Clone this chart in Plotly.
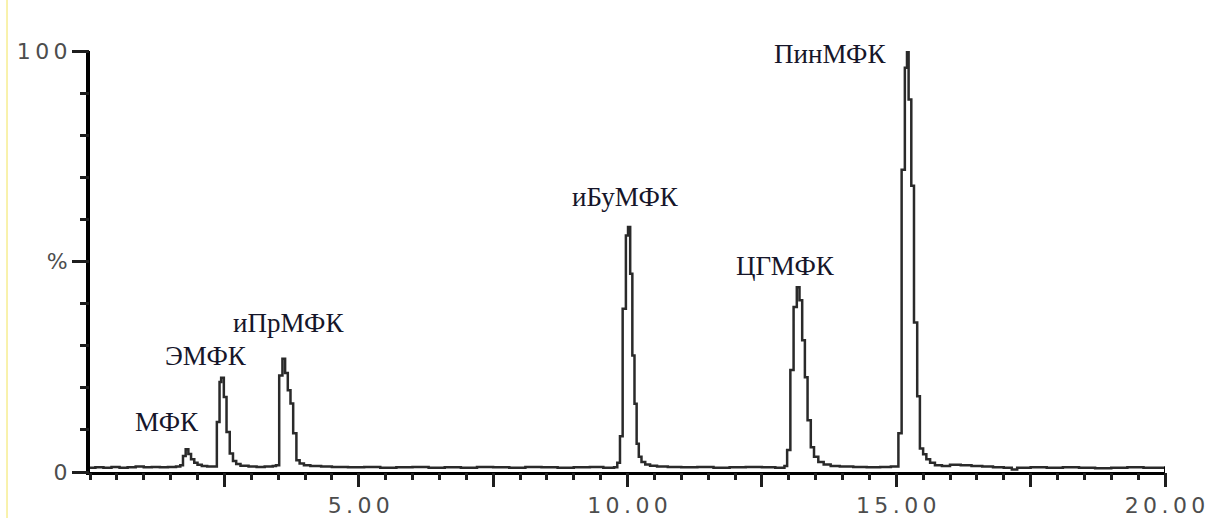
import plotly.graph_objects as go

# Chromatogram: retention time (min) vs. relative intensity (%)
retention_time = [
    0.00, 0.10, 0.25, 0.40, 0.55, 0.70, 0.85, 1.00, 1.15, 1.30, 1.45, 1.60,
    1.68, 1.73, 1.78, 1.83, 1.88, 1.94, 2.00, 2.08, 2.18, 2.30,
    2.36, 2.41, 2.44, 2.49, 2.54, 2.60, 2.66, 2.72, 2.80, 2.95, 3.10, 3.25, 3.40,
    3.46, 3.52, 3.58, 3.63, 3.68, 3.73, 3.78, 3.84, 3.90, 3.98, 4.10, 4.30,
    4.50, 4.80, 5.10, 5.40, 5.70, 6.00, 6.30, 6.60, 6.90, 7.20, 7.50, 7.80,
    8.10, 8.40, 8.70, 9.00, 9.30, 9.55, 9.75,
    9.81, 9.86, 9.91, 9.97, 10.01, 10.05, 10.09, 10.13, 10.17, 10.21, 10.26,
    10.33, 10.42, 10.55, 10.75, 11.00, 11.30, 11.60, 11.90, 12.20, 12.50, 12.75,
    12.92, 12.97, 13.03, 13.09, 13.15, 13.20, 13.25, 13.30, 13.35, 13.41, 13.47,
    13.55, 13.65, 13.78, 13.95, 14.20, 14.45, 14.70, 14.90,
    15.04, 15.10, 15.16, 15.20, 15.23, 15.28, 15.33, 15.39, 15.44, 15.50, 15.56,
    15.63, 15.72, 15.85, 16.00, 16.20, 16.40, 16.60, 16.80, 17.00, 17.15, 17.25,
    17.50, 17.80, 18.10, 18.40, 18.70, 19.00, 19.30, 19.60, 19.90, 20.00,
]
intensity = [
    1.0, 1.1, 1.0, 1.2, 1.0, 1.1, 1.3, 1.1, 1.2, 1.1, 1.2, 1.3,
    1.6, 3.8, 5.4, 4.3, 3.0, 2.2, 1.7, 1.4, 1.3, 1.3,
    11.9, 21.4, 22.4, 17.8, 9.5, 4.4, 2.6, 1.9, 1.5, 1.3, 1.2, 1.3, 1.4,
    1.6, 22.9, 26.9, 23.5, 19.4, 16.3, 9.2, 2.8, 2.0, 1.6, 1.4, 1.3,
    1.2, 1.1, 1.2, 1.0, 1.1, 1.2, 1.0, 1.1, 1.0, 1.2, 1.1, 1.0,
    1.2, 1.1, 1.0, 1.1, 1.2, 1.0, 1.1,
    2.2, 8.5, 38.8, 56.2, 58.2, 47.1, 27.7, 16.2, 6.7, 3.6, 2.4,
    1.8, 1.5, 1.3, 1.2, 1.1, 1.2, 1.0, 1.1, 1.2, 1.1, 1.0,
    1.4, 5.2, 24.2, 39.2, 43.9, 40.8, 31.3, 22.5, 12.3, 5.9, 3.6,
    2.4, 1.8, 1.4, 1.3, 1.2, 1.1, 1.2, 1.3,
    9.2, 71.8, 96.0, 100.0, 88.5, 68.0, 35.5, 18.0, 5.6, 4.2, 3.0,
    2.2, 1.6, 1.4, 1.7, 1.6, 1.4, 1.3, 1.1, 1.0, 0.6, 1.0,
    1.1, 1.0, 1.1, 1.0, 0.9, 1.0, 1.1, 1.0, 1.0, 1.0,
]

# Peak identities and apex coordinates
peak_names = ["МФК", "ЭМФК", "иПрМФК", "иБуМФК", "ЦГМФК", "ПинМФК"]
peak_rt = [1.78, 2.44, 3.58, 10.01, 13.15, 15.20]
peak_height = [5.4, 22.4, 26.9, 58.2, 43.9, 100.0]

# Axis tick values and their labels
x_major = [2.5, 5.0, 7.5, 10.0, 12.5, 15.0, 17.5, 20.0]
x_major_text = ["", "5.00", "", "10.00", "", "15.00", "", "20.00"]
y_major = [0, 50, 100]
y_major_text = ["0", "%", "100"]

THIN = "\u2009"


def spaced(s):
    return THIN.join(s)


fig = go.Figure()
fig.add_trace(go.Scatter(
    x=retention_time, y=intensity, mode="lines",
    line=dict(color="#2a2a2a", width=2.5, shape="hv"),
    hoverinfo="skip", showlegend=False,
))
# invisible companion trace so the minor-tick axes get drawn
fig.add_trace(go.Scatter(
    x=[retention_time[0]], y=[intensity[0]], xaxis="x2", yaxis="y2",
    mode="markers", marker=dict(opacity=0), hoverinfo="skip", showlegend=False,
))

# label offsets (px) from each apex
label_shift = [(-19, 27), (-15, 22), (6, 36), (-3, 30), (-11, 21), (-77, -3)]
for name, rt, h, (dx, dy) in zip(peak_names, peak_rt, peak_height, label_shift):
    fig.add_annotation(
        x=rt, y=h, text=name, showarrow=False,
        xanchor="center", yanchor="middle", xshift=dx, yshift=dy,
        font=dict(family="Liberation Serif", size=27, color="#16162a"),
    )

# short upward tick closing the time axis
fig.add_shape(type="line", x0=20, x1=20, y0=0, y1=1.3,
              line=dict(color="black", width=2), layer="above")
# thin yellow edge line at the far left
fig.add_shape(type="line", xref="paper", yref="paper",
              x0=-0.0772, x1=-0.0772, y0=-0.12, y1=1.13,
              line=dict(color="#f2e45a", width=1), layer="above")

tick_font = dict(family="DejaVu Sans", size=22, color="#4d4d4d")
tick_col = "#1e1e1e"

fig.update_layout(
    width=1209, height=518,
    margin=dict(l=90, r=44, t=51, b=46, autoexpand=False),
    paper_bgcolor="white", plot_bgcolor="white",
    showlegend=False,
    xaxis=dict(
        range=[0, 20], showgrid=False, zeroline=False, automargin=False,
        showline=True, linecolor="black", linewidth=3,
        tickmode="array", tickvals=x_major,
        ticktext=[spaced(t) for t in x_major_text],
        ticks="outside", ticklen=12, tickwidth=2.5, tickcolor=tick_col,
        tickfont=tick_font,
    ),
    yaxis=dict(
        range=[0, 100], showgrid=False, zeroline=False, automargin=False,
        showline=True, linecolor="black", linewidth=4,
        tickmode="array", tickvals=y_major,
        ticktext=[spaced(t) for t in y_major_text],
        ticks="outside", ticklen=14, tickwidth=2.5, tickcolor=tick_col,
        tickfont=tick_font,
    ),
    # minor ticks: every 0.5 min and every 10 %
    xaxis2=dict(
        range=[0, 20], overlaying="x", side="bottom", anchor="y",
        showgrid=False, zeroline=False, showline=False, automargin=False,
        tickmode="linear", tick0=0, dtick=0.5, ticks="outside",
        ticklen=7, tickwidth=2.5, tickcolor=tick_col, showticklabels=False,
    ),
    yaxis2=dict(
        range=[0, 100], overlaying="y", side="left", anchor="x",
        showgrid=False, zeroline=False, showline=False, automargin=False,
        tickmode="linear", tick0=0, dtick=10, ticks="outside",
        ticklen=9, tickwidth=2.5, tickcolor=tick_col, showticklabels=False,
    ),
)

fig.write_html("out.html")
